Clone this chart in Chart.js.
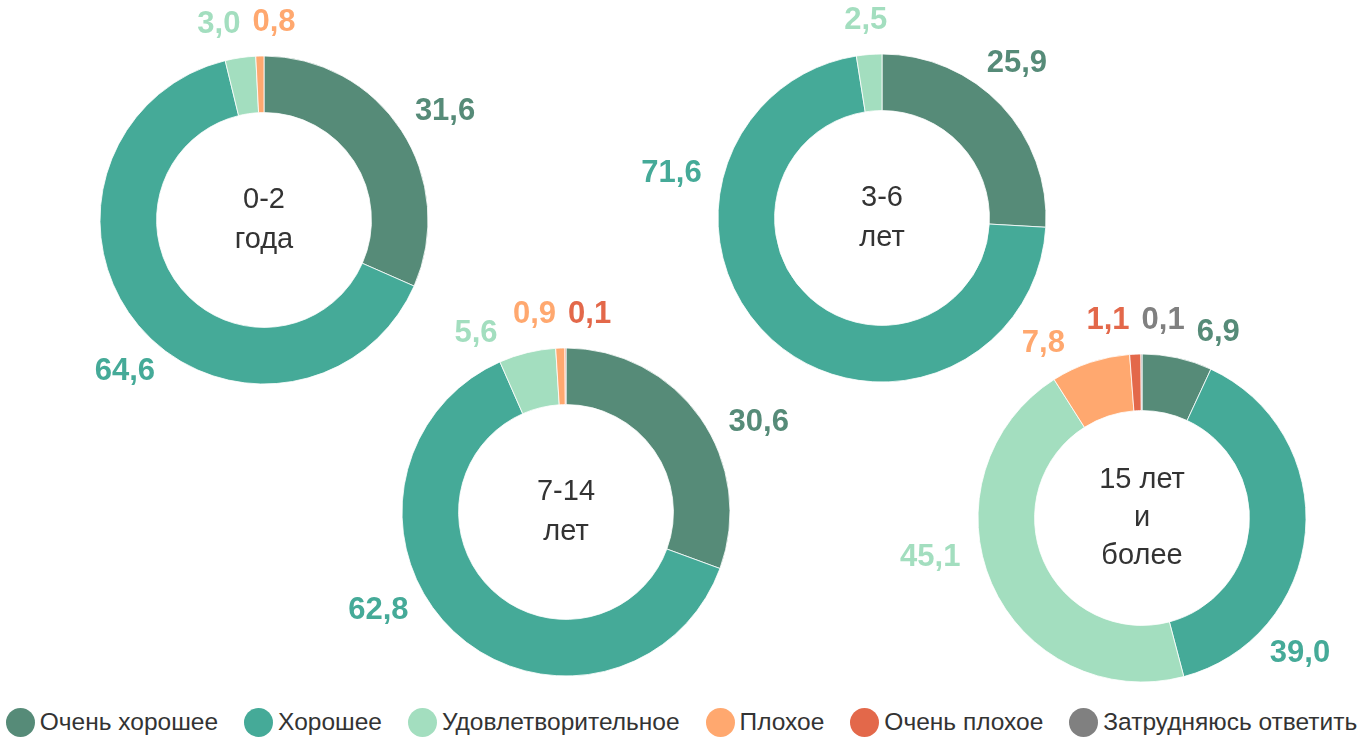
<!DOCTYPE html>
<html>
<head>
<meta charset="utf-8">
<script src="https://cdn.jsdelivr.net/npm/chart.js@4/dist/chart.umd.min.js"></script>
<style>
  html, body { margin: 0; padding: 0; background: #fff; }
  body { width: 1369px; height: 739px; position: relative; overflow: hidden; font-family: "Liberation Sans", Arial, sans-serif; }
  canvas.ring { position: absolute; }
  #legend { position: absolute; left: -3px; top: 706px; width: 1369px; height: 32px; display: flex; justify-content: center; align-items: center; gap: 26px; }
  .item { display: flex; align-items: center; font-size: 24.5px; color: #333; white-space: nowrap; }
  .dot { width: 29px; height: 29px; border-radius: 50%; margin-right: 5px; display: inline-block; }
</style>
</head>
<body>
<div id="legend"></div>
<script>
var categories = ["Очень хорошее", "Хорошее", "Удовлетворительное", "Плохое", "Очень плохое", "Затрудняюсь ответить"];
var colors = ["#568b78", "#45aa98", "#a3debf", "#ffa86f", "#e3684a", "#808080"];

var groups = [["0-2", "года"], ["3-6", "лет"], ["7-14", "лет"], ["15 лет", "и", "более"]];
var values02 = [31.6, 64.6, 3.0, 0.8, 0, 0];
var values36 = [25.9, 71.6, 2.5, 0, 0, 0];
var values714 = [30.6, 62.8, 5.6, 0.9, 0.1, 0];
var values15 = [6.9, 39.0, 45.1, 7.8, 1.1, 0.1];
var seriesValues = [values02, values36, values714, values15];

// layout: ring centres and label angle nudges (degrees)
var centres = [[264, 220], [882, 218], [566, 512], [1142, 518]];
var nudges = [[0, -10, 0, 0, 0, 0], [-8, 61, 0, 0, 0, 0], [8, 17, -12, 0, 0, 0], [8, 38, 12, -10, 0, 0]];

var W = 580, H = 500;

function fmt(v) { return v.toFixed(1).replace(".", ","); }

var labelPlugin = {
  id: "ringLabels",
  afterDatasetsDraw: function(chart) {
    var ctx = chart.ctx;
    var meta = chart.getDatasetMeta(0);
    var data = chart.data.datasets[0].data;
    var nud = chart.options.plugins.ringLabels.nudge;
    var cx = (chart.chartArea.left + chart.chartArea.right) / 2;
    var cy = (chart.chartArea.top + chart.chartArea.bottom) / 2;
    ctx.save();
    ctx.font = "bold 31px 'Liberation Sans', Arial, sans-serif";
    var labs = [];
    meta.data.forEach(function(arc, i) {
      if (!data[i]) return;
      var a = (arc.startAngle + arc.endAngle) / 2 + nud[i] * Math.PI / 180;
      var r = arc.outerRadius + 22;
      var t = fmt(data[i]);
      var w = ctx.measureText(t).width;
      var ca = Math.cos(a), sa = Math.sin(a);
      labs.push({ x: cx + ca * r + ca * w / 2, y: cy + sa * r + sa * 12, w: w, t: t, c: colors[i] });
    });
    // keep labels of one row apart, preserving their left-to-right order
    labs.sort(function(a, b) { return a.x - b.x; });
    for (var k = 0; k < 80; k++) {
      for (var p = 0; p < labs.length; p++) {
        for (var q = p + 1; q < labs.length; q++) {
          var A = labs[p], B = labs[q];
          if (Math.abs(A.y - B.y) >= 22) continue;
          var need = (A.w + B.w) / 2 + 12;
          var dx = B.x - A.x;
          if (dx < need) {
            var push = (need - dx) / 2;
            A.x -= push; B.x += push;
          }
        }
      }
    }
    ctx.textAlign = "center";
    ctx.textBaseline = "middle";
    labs.forEach(function(l) { ctx.fillStyle = l.c; ctx.fillText(l.t, l.x, l.y); });
    // centre caption
    var lines = chart.options.plugins.ringLabels.caption;
    ctx.font = "29px 'Liberation Sans', Arial, sans-serif";
    ctx.fillStyle = "#333";
    var lh = lines.length > 2 ? 38 : 40;
    lines.forEach(function(s, i) {
      ctx.fillText(s, cx, cy + (i - (lines.length - 1) / 2) * lh);
    });
    ctx.restore();
  }
};

seriesValues.forEach(function(vals, g) {
  var cv = document.createElement("canvas");
  cv.className = "ring";
  cv.width = W; cv.height = H;
  cv.style.left = (centres[g][0] - W / 2) + "px";
  cv.style.top = (centres[g][1] - H / 2) + "px";
  document.body.appendChild(cv);
  new Chart(cv, {
    type: "doughnut",
    data: {
      labels: categories,
      datasets: [{
        data: vals,
        backgroundColor: colors,
        borderColor: "#ffffff",
        borderWidth: 0.8
      }]
    },
    options: {
      responsive: false,
      animation: false,
      radius: 164,
      cutout: "65.5%",
      layout: { padding: 0 },
      plugins: {
        legend: { display: false },
        tooltip: { enabled: false },
        ringLabels: { nudge: nudges[g], caption: groups[g] }
      }
    },
    plugins: [labelPlugin]
  });
});

var leg = document.getElementById("legend");
categories.forEach(function(c, i) {
  var it = document.createElement("div");
  it.className = "item";
  it.innerHTML = '<span class="dot" style="background:' + colors[i] + '"></span>' + c;
  leg.appendChild(it);
});
</script>
</body>
</html>
